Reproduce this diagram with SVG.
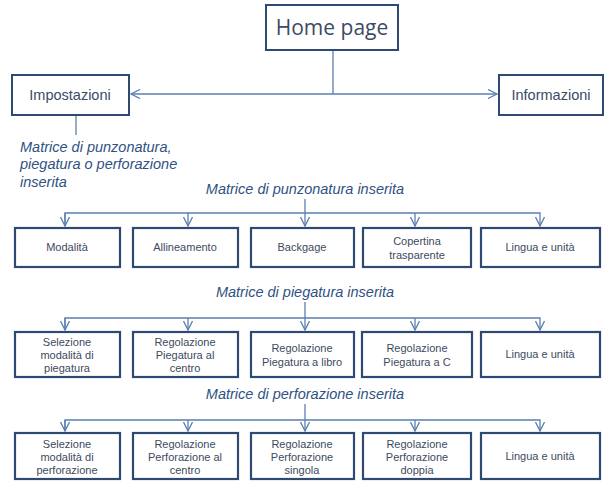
<svg xmlns="http://www.w3.org/2000/svg" width="612" height="486" viewBox="0 0 612 486">
<defs>
<marker id="arr" viewBox="0 0 12 10" refX="10" refY="5" markerWidth="12" markerHeight="10" markerUnits="userSpaceOnUse" orient="auto">
<path d="M1,0.5 L10,5 L1,9.5" fill="none" stroke="#5b7fb0" stroke-width="1.3"/>
</marker>
<style>
.box{fill:#fff;stroke:#2e4a72;stroke-width:2.2}
.big{fill:#fff;stroke:#2e4a72;stroke-width:2}
.c{fill:none;stroke:#5b7fb0;stroke-width:1.3}
.t{font-family:"Liberation Sans",Arial,sans-serif;font-size:11px;fill:#3d4a5e;text-anchor:middle}
.h{font-family:"Open Sans","Noto Sans",sans-serif;font-size:21px;fill:#3d4a66;text-anchor:middle}
.m{font-family:"Liberation Sans",Arial,sans-serif;font-size:14.5px;fill:#3d4a66;text-anchor:middle}
.i{font-family:"Liberation Sans",Arial,sans-serif;font-size:14.5px;font-style:italic;fill:#2f5283}
</style>
</defs>
<g id="connectors">
<line class="c" x1="333" y1="50" x2="333" y2="94"/>
<line class="c" x1="333" y1="94" x2="131" y2="94" marker-end="url(#arr)"/>
<line class="c" x1="333" y1="94" x2="497" y2="94" marker-end="url(#arr)"/>
<line class="c" x1="76" y1="115" x2="76" y2="135"/>
<line class="c" x1="305" y1="199" x2="305" y2="226" marker-end="url(#arr)"/>
<polyline class="c" points="65,226 65,213 540,213 540,226" marker-end="url(#arr)"/>
<line class="c" x1="65" y1="213" x2="65" y2="226" marker-end="url(#arr)"/>
<line class="c" x1="188" y1="213" x2="188" y2="226" marker-end="url(#arr)"/>
<line class="c" x1="415" y1="213" x2="415" y2="226" marker-end="url(#arr)"/>
<line class="c" x1="305" y1="302" x2="305" y2="330" marker-end="url(#arr)"/>
<polyline class="c" points="65,330 65,318 540,318 540,330" marker-end="url(#arr)"/>
<line class="c" x1="65" y1="318" x2="65" y2="330" marker-end="url(#arr)"/>
<line class="c" x1="188" y1="318" x2="188" y2="330" marker-end="url(#arr)"/>
<line class="c" x1="415" y1="318" x2="415" y2="330" marker-end="url(#arr)"/>
<line class="c" x1="305" y1="404" x2="305" y2="431" marker-end="url(#arr)"/>
<polyline class="c" points="65,431 65,420 540,420 540,431" marker-end="url(#arr)"/>
<line class="c" x1="65" y1="420" x2="65" y2="431" marker-end="url(#arr)"/>
<line class="c" x1="188" y1="420" x2="188" y2="431" marker-end="url(#arr)"/>
<line class="c" x1="415" y1="420" x2="415" y2="431" marker-end="url(#arr)"/>
</g>
<g id="home"><rect class="big" x="266" y="5" width="132" height="45"/><text class="h" x="332" y="35">Home page</text></g>
<g id="impostazioni"><rect class="big" x="12" y="75" width="117" height="40"/><text class="m" x="70" y="100">Impostazioni</text></g>
<g id="informazioni"><rect class="big" x="499" y="75" width="104" height="40"/><text class="m" x="551" y="100">Informazioni</text></g>
<g id="label-matrice"><text class="i" x="20" y="152">Matrice di punzonatura,</text><text class="i" x="20" y="169">piegatura o perforazione</text><text class="i" x="20" y="187">inserita</text></g>
<g id="title1"><text class="i" x="305" y="194" text-anchor="middle">Matrice di punzonatura inserita</text></g>
<g id="title2"><text class="i" x="305" y="297" text-anchor="middle">Matrice di piegatura inserita</text></g>
<g id="title3"><text class="i" x="305" y="399" text-anchor="middle">Matrice di perforazione inserita</text></g>
<g id="r1b1"><rect class="box" x="15" y="228" width="105" height="39"/><text class="t" x="67" y="251">Modalità</text></g>
<g id="r1b2"><rect class="box" x="133" y="228" width="105" height="39"/><text class="t" x="185" y="251">Allineamento</text></g>
<g id="r1b3"><rect class="box" x="251" y="228" width="103" height="39"/><text class="t" x="302" y="251">Backgage</text></g>
<g id="r1b4"><rect class="box" x="363" y="228" width="108" height="39"/><text class="t" x="417" y="245">Copertina</text><text class="t" x="417" y="259">trasparente</text></g>
<g id="r1b5"><rect class="box" x="481" y="228" width="119" height="39"/><text class="t" x="540" y="251">Lingua e unità</text></g>
<g id="r2b1"><rect class="box" x="15" y="332" width="105" height="45"/><text class="t" x="67" y="346">Selezione</text><text class="t" x="67" y="359">modalità di</text><text class="t" x="67" y="372">piegatura</text></g>
<g id="r2b2"><rect class="box" x="133" y="332" width="105" height="45"/><text class="t" x="185" y="346">Regolazione</text><text class="t" x="185" y="359">Piegatura al</text><text class="t" x="185" y="372">centro</text></g>
<g id="r2b3"><rect class="box" x="251" y="332" width="103" height="45"/><text class="t" x="302" y="352">Regolazione</text><text class="t" x="302" y="366">Piegatura a libro</text></g>
<g id="r2b4"><rect class="box" x="362" y="332" width="110" height="45"/><text class="t" x="417" y="352">Regolazione</text><text class="t" x="417" y="366">Piegatura a C</text></g>
<g id="r2b5"><rect class="box" x="481" y="332" width="119" height="45"/><text class="t" x="540" y="358">Lingua e unità</text></g>
<g id="r3b1"><rect class="box" x="15" y="433" width="105" height="46"/><text class="t" x="67" y="448">Selezione</text><text class="t" x="67" y="461">modalità di</text><text class="t" x="67" y="474">perforazione</text></g>
<g id="r3b2"><rect class="box" x="133" y="433" width="105" height="46"/><text class="t" x="185" y="448">Regolazione</text><text class="t" x="185" y="461">Perforazione al</text><text class="t" x="185" y="474">centro</text></g>
<g id="r3b3"><rect class="box" x="251" y="433" width="103" height="46"/><text class="t" x="302" y="448">Regolazione</text><text class="t" x="302" y="461">Perforazione</text><text class="t" x="302" y="474">singola</text></g>
<g id="r3b4"><rect class="box" x="363" y="433" width="108" height="46"/><text class="t" x="417" y="448">Regolazione</text><text class="t" x="417" y="461">Perforazione</text><text class="t" x="417" y="474">doppia</text></g>
<g id="r3b5"><rect class="box" x="481" y="433" width="119" height="46"/><text class="t" x="540" y="460">Lingua e unità</text></g>
</svg>
